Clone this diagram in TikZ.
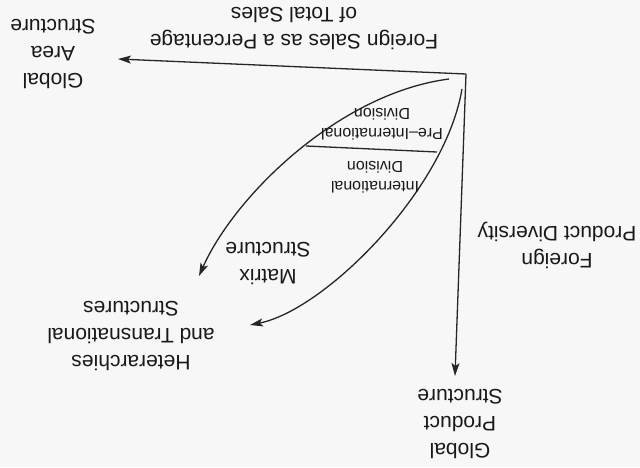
\documentclass[tikz,border=0pt]{standalone}
\usepackage{fontspec}
\setmainfont{Liberation Sans}
\usepackage{tikz}
\usetikzlibrary{arrows.meta}
\usetikzlibrary{positioning}

\begin{document}
\begin{tikzpicture}[x=1pt, y=-1pt, >={Stealth[length=13pt, width=8pt, inset=3pt]},
  structlabel/.style={rotate=180, align=center, inner sep=0pt, text=black!90,
    font=\fontsize{21}{27}\selectfont},
  divlabel/.style={rotate=180, align=center, inner sep=0pt, text=black!90,
    font=\fontsize{16}{20}\selectfont},
  axis/.style={black!85, line width=1.3pt}]

% page, printed upside down
\useasboundingbox[fill=black!3] (0,0) rectangle (640,467);

% corner and arrow ends
\coordinate (o)     at (466,74);
\coordinate (xend)  at (118,59);
\coordinate (yend)  at (455,376);
\coordinate (as)    at (449,79);
\coordinate (ae)    at (199,276);
\coordinate (bs)    at (462,89);
\coordinate (be)    at (250,325);

% Draw the axes
\draw[axis, ->] (o) -- (xend);
\draw[axis, ->] (o) -- (yend);

% axis labels
\node[structlabel] (sales) at (294,29) {Foreign Sales as a Percentage\\of Total Sales};
\node[structlabel] (diversity) at (557,245) {Foreign\\Product Diversity};

% structures
\node[structlabel] (area) at (53,54) {Global\\Area\\Structure};
\node[structlabel] (product) at (460,424) {Global\\Product\\Structure};
\node[structlabel] (matrix) at (268,263) {Matrix\\Structure};
\node[structlabel] (hetero) at (131,336) {Heterarchies\\and Transnational\\Structures};

% the two paths
\draw[axis, ->] (as) .. controls (340,93) and (235,195) .. (ae);
\draw[axis, ->] (bs) .. controls (445,190) and (325,310) .. (be);

% divisions
\node[divlabel] (preintl) at (382,124) {Pre--International\\Division};
\node[divlabel] (intl) at (375,177) {International\\Division};
\coordinate (sepl) at (306,146);
\coordinate (sepr) at (437,152);
\draw[axis] (sepl) -- (sepr);

\end{tikzpicture}
\end{document}
